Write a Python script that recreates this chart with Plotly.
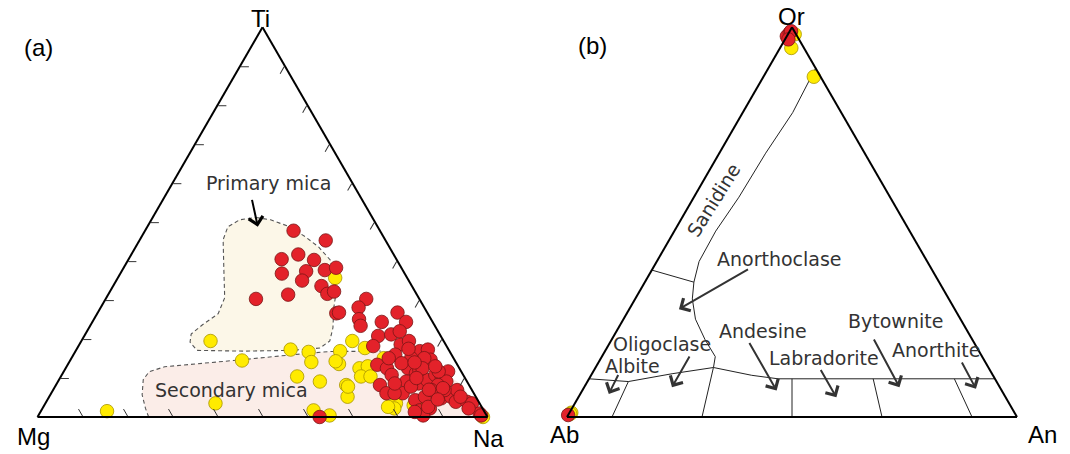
import numpy as np
import plotly.graph_objects as go

# ---------------- DATA: panel (a) Ti-Mg-Na (percent) ----------------
red_a_ti = [47.8, 45.3, 41.7, 40.5, 40.3, 36.8, 37.4, 35.0, 37.7, 38.3, 33.6, 31.6, 32.2, 30.3, 31.4, 26.6, 26.8,
            30.3, 28.1, 25.1, 23.4, 26.8, 24.4, 24.4, 20.8, 21.2, 18.2, 18.6, 16.0, 19.5, 16.9, 17.3, 14.7, 15.1,
            15.1, 13.4, 12.5, 12.5, 11.2, 10.8, 9.1, 8.6, 9.5, 10.8, 10.4, 11.7, 9.1, 8.2, 8.2, 6.1, 6.1, 4.3, 5.2,
            2.2, 4.8, 5.2, 6.9, 3.9, 3.9, 3.5, 0.9, 1.7, 6.1, 7.8, 6.9, 6.9, 0.4, 0.0, 8.6, 12.1, 11.7, 0.4, 2.6,
            7.4, 15.1, 13.8, 12.5, 13.0, 5.2, 2.2, 1.3, 22.0, 17.5, 14.0, 10.0, 7.0, 4.5]
red_a_mg = [19.2, 13.3, 21.2, 25.5, 18.4, 27.3, 21.6, 23.7, 17.3, 14.5, 20.1, 19.8, 18.0, 36.3, 28.6, 20.3, 19.6,
            11.8, 14.6, 16.0, 16.5, 6.6, 5.9, 11.3, 13.9, 10.8, 16.3, 10.0, 12.5, 7.7, 6.6, 4.6, 5.3, 6.5,
            9.4, 17.8, 16.1, 11.4, 10.3, 15.9, 13.5, 11.0, 8.7, 6.2, 5.0, 2.9, 4.6, 6.9, 19.8, 19.4, 15.8, 13.9, 11.3,
            11.7, 7.9, 5.5, 3.3, 5.1, 2.6, 1.7, 1.3, 14.2, 17.6, 13.1, 6.1, 9.0, 14.1, 37.3, 16.3, 9.1, 5.0, 1.2, 11.9,
            6.2, 14.4, 12.2, 8.2, 5.1, 3.4, 3.1, 15.5, 8.5, 8.8, 9.2, 10.8, 9.5, 8.8]
red_a_na = [33.0, 41.4, 37.1, 34.0, 41.3, 35.9, 41.0, 41.3, 45.0, 47.2, 46.3, 48.6, 49.8, 33.4, 40.0, 53.1, 53.6,
            57.9, 57.3, 58.9, 60.1, 66.6, 69.7, 64.3, 65.3, 68.0, 65.5, 71.4, 71.5, 72.8, 76.5, 78.1, 80.0, 78.4,
            75.5, 68.8, 71.4, 76.1, 78.5, 73.3, 77.4, 80.4, 81.8, 83.0, 84.6, 85.4, 86.3, 84.9, 72.0, 74.5, 78.1, 81.8, 83.5,
            86.1, 87.3, 89.3, 89.8, 91.0, 93.5, 94.8, 97.8, 84.1, 76.3, 79.1, 87.0, 84.1, 85.5, 62.7, 75.1, 78.8, 83.3, 98.4, 85.5,
            86.4, 70.5, 74.0, 79.3, 81.9, 91.4, 94.7, 83.2, 69.5, 73.7, 76.8, 79.2, 83.5, 86.7]

yel_a_ti = [19.5, 17.3, 16.7, 14.1, 14.5, 10.4, 9.1, 16.9, 13.6, 14.3, 19.5, 8.2, 5.2, 3.5, 1.5, 1.7, 0.4,
            17.7, 12.5, 13.0, 10.4, 10.4, 7.8, 3.5, 2.2, 15.1, 0.0, 2.2, 3.0, 35.7, 2.6]
yel_a_mg = [51.8, 35.1, 31.4, 32.1, 47.3, 37.1, 32.7, 24.3, 26.2, 26.6, 20.3, 27.3, 28.5, 58.7, 83.8, 37.8, 34.9,
            18.4, 22.2, 20.1, 22.9, 20.8, 27.1, 18.6, 19.6, 15.5, 1.0, 12.8, 14.9, 16.0, 20.8]
yel_a_na = [28.7, 47.6, 51.9, 53.8, 38.2, 52.5, 58.2, 58.8, 60.2, 59.1, 60.2, 64.5, 66.3, 37.8, 14.7, 60.5, 64.7,
            63.9, 65.3, 66.9, 66.7, 68.8, 65.1, 77.9, 78.2, 69.4, 99.0, 85.0, 82.1, 48.3, 76.6]

# field outlines (percent)
primary_ti = [51.2, 50.6, 48.9, 46.3, 43.6, 40.3, 35.9, 31.9, 28.1, 22.9, 19.5, 17.7, 17.1, 16.9, 17.1, 19.2,
              21.3, 23.6, 26.5, 30.6, 38.4, 45.5, 48.8, 50.6, 51.2]
primary_mg = [25.8, 22.9, 19.7, 17.4, 15.7, 14.8, 15.9, 17.7, 20.1, 22.9, 25.3, 28.4, 34.7, 45.8, 56.0, 56.5,
              55.2, 51.6, 46.6, 43.1, 39.4, 36.0, 33.3, 29.8, 25.8]
primary_na = [23.0, 26.5, 31.4, 36.3, 40.7, 44.9, 48.2, 50.4, 51.8, 54.2, 55.2, 53.9, 48.2, 37.3, 26.9, 24.3,
              23.5, 24.8, 26.9, 26.3, 22.2, 18.5, 17.9, 19.6, 23.0]

secondary_ti = [0.0, 2.2, 5.7, 9.6, 11.6, 12.9, 14.7, 16.0, 16.8, 16.9, 14.3, 8.3, 0.8, 0.0]
secondary_mg = [75.3, 74.9, 73.9, 71.7, 69.4, 65.3, 47.2, 35.1, 26.7, 15.3, 6.5, 1.5, 1.1, 1.1]
secondary_na = [24.7, 22.9, 20.4, 18.7, 19.0, 21.8, 38.1, 48.9, 56.5, 67.8, 79.2, 90.2, 98.1, 98.9]
secondary_dashed_n = 10  # first points carry the dashed border

tick_values = [10, 20, 30, 40, 50, 60, 70, 80, 90]

# ---------------- DATA: panel (b) Or-Ab-An (percent) ----------------
red_b_or = [97.7, 98.6, 99.0, 96.9, 0.5]
red_b_ab = [2.3, 1.2, 0.7, 2.35, 99.5]
red_b_an = [0.0, 0.2, 0.3, 0.75, 0.0]

yel_b_or = [94.7, 98.2, 87.3, 1.1, 0.8]
yel_b_ab = [2.8, 0.3, 1.5, 98.5, 98.9]
yel_b_an = [2.5, 1.5, 11.2, 0.4, 0.3]

# Sanidine / anorthoclase boundary
curveA_or = [89.5, 78.1, 67.7, 56.4, 47.7, 39.9, 34.6, 30.3, 25.1, 19.8, 15.5, 12.7]
curveA_ab = [0.0, 10.8, 22.0, 33.6, 43.1, 50.7, 54.5, 57.0, 58.9, 59.4, 59.3, 61.1]
curveA_an = [10.5, 11.1, 10.3, 10.0, 9.2, 9.4, 10.9, 12.7, 16.0, 20.8, 25.2, 26.2]
# plagioclase upper boundary (right part)
lineB_or = [12.7, 10.7, 9.8, 9.8]
lineB_ab = [61.1, 53.6, 48.2, 0.0]
lineB_an = [26.2, 35.7, 42.0, 90.2]
# plagioclase upper boundary (left part)
lineM_or = [9.8, 9.1, 11.1, 12.7]
lineM_ab = [90.2, 81.8, 71.1, 61.1]
lineM_an = [0.0, 9.1, 17.8, 26.2]
# short sanidine / anorthoclase tie line
lineS_or = [37.7, 34.6]
lineS_ab = [62.3, 54.5]
lineS_an = [0.0, 10.9]
# plagioclase dividers: An/(Ab+An) ratio and Or at upper end
divider_an_ratio = [10, 30, 50, 70, 90]
divider_top_or = [9.1, 12.7, 9.8, 9.8, 9.8]

# ---------------- geometry helpers ----------------
W, H = 1070, 454
SIDE = 450.0
TRI_H = SIDE * np.sqrt(3) / 2
BASE_Y = 417.0
CX = {'a': 262.5, 'b': 792.0}
REF = {'a': np.array([[253, 30], [30, 415], [495, 415]], float),
       'b': np.array([[790.5, 33], [559, 416], [1025, 416]], float)}


def my_corners(p):
    cx = CX[p]
    return np.array([[cx, BASE_Y - TRI_H], [cx - SIDE / 2, BASE_Y], [cx + SIDE / 2, BASE_Y]])


def map_px(p, x, y):
    A, B, C = REF[p]
    M = np.array([[A[0] - C[0], B[0] - C[0]], [A[1] - C[1], B[1] - C[1]]])
    l1, l2 = np.linalg.solve(M, [x - C[0], y - C[1]])
    l3 = 1 - l1 - l2
    P = my_corners(p)
    X = l1 * P[0] + l2 * P[1] + l3 * P[2]
    return X[0], X[1]


def paper(x, y):
    return x / W, 1 - y / H


def domain(p):
    cx = CX[p]
    yc = BASE_Y - TRI_H / 2
    ycp = 1 - yc / H
    half = (TRI_H / H) / 2 + 0.004
    return dict(x=[(cx - SIDE / 2) / W, (cx + SIDE / 2) / W], y=[ycp - half, ycp + half])


fig = go.Figure()

# ---------------- panel (a) ----------------
fig.add_trace(go.Scatterternary(a=secondary_ti, b=secondary_mg, c=secondary_na, mode='lines', fill='toself',
                                fillcolor='#FBEDE8', line=dict(width=0), subplot='ternary', hoverinfo='skip'))
fig.add_trace(go.Scatterternary(a=secondary_ti[:secondary_dashed_n], b=secondary_mg[:secondary_dashed_n],
                                c=secondary_na[:secondary_dashed_n], mode='lines',
                                line=dict(color='#555555', width=1.1, dash='4px,3px'), subplot='ternary',
                                hoverinfo='skip'))
fig.add_trace(go.Scatterternary(a=primary_ti, b=primary_mg, c=primary_na, mode='lines', fill='toself',
                                fillcolor='#FCF7E8', line=dict(color='#555555', width=1.1, dash='4px,3px'),
                                subplot='ternary', hoverinfo='skip'))
fig.add_trace(go.Scatterternary(a=yel_a_ti, b=yel_a_mg, c=yel_a_na, mode='markers', cliponaxis=False,
                                marker=dict(size=13.5, color='#FFEB00', line=dict(color='#A89400', width=0.8)),
                                subplot='ternary'))
fig.add_trace(go.Scatterternary(a=red_a_ti, b=red_a_mg, c=red_a_na, mode='markers', cliponaxis=False,
                                marker=dict(size=13.5, color='#E3222A', line=dict(color='#7A1515', width=0.8)),
                                subplot='ternary'))

# ---------------- panel (b) ----------------
line_style = dict(color='#222222', width=1)
for o, ab, an in [(curveA_or, curveA_ab, curveA_an), (lineB_or, lineB_ab, lineB_an),
                  (lineM_or, lineM_ab, lineM_an), (lineS_or, lineS_ab, lineS_an)]:
    fig.add_trace(go.Scatterternary(a=o, b=ab, c=an, mode='lines', line=line_style, subplot='ternary2',
                                    hoverinfo='skip'))
for k, top in zip(divider_an_ratio, divider_top_or):
    rest = 100 - top
    fig.add_trace(go.Scatterternary(a=[0, top], b=[100 - k, rest * (100 - k) / 100], c=[k, rest * k / 100],
                                    mode='lines', line=line_style, subplot='ternary2', hoverinfo='skip'))
fig.add_trace(go.Scatterternary(a=yel_b_or, b=yel_b_ab, c=yel_b_an, mode='markers', cliponaxis=False,
                                marker=dict(size=13.5, color='#FFEB00', line=dict(color='#A89400', width=0.8)),
                                subplot='ternary2'))
fig.add_trace(go.Scatterternary(a=red_b_or, b=red_b_ab, c=red_b_an, mode='markers', cliponaxis=False,
                                marker=dict(size=13.5, color='#E3222A', line=dict(color='#7A1515', width=0.8)),
                                subplot='ternary2'))


def axis(ticks):
    d = dict(showgrid=False, showline=True, linecolor='black', linewidth=2, showticklabels=False,
             title=dict(text=''))
    if ticks:
        d.update(ticks='inside', tickmode='array', tickvals=tick_values, ticklen=8, tickwidth=1.2,
                 tickcolor='#333333')
    else:
        d.update(ticks='')
    return d


layout_t = dict(sum=100, bgcolor='white')
fig.update_layout(
    width=W, height=H, margin=dict(l=0, r=0, t=0, b=0), paper_bgcolor='white', showlegend=False,
    ternary=dict(domain=domain('a'), aaxis=axis(True), baxis=axis(True), caxis=axis(True), **layout_t),
    ternary2=dict(domain=domain('b'), aaxis=axis(False), baxis=axis(False), caxis=axis(False), **layout_t),
)

annotations = []


def text_ann(p, x, y, txt, size, family, color, angle=0, mapped=True):
    if mapped:
        x, y = map_px(p, x, y)
    px, py = paper(x, y)
    annotations.append(dict(x=px, y=py, xref='paper', yref='paper', text=txt, showarrow=False,
                            xanchor='center', yanchor='middle', textangle=angle,
                            font=dict(size=size, family=family, color=color)))


def arrow_ann(p, tx, ty, hx, hy, color):
    tx, ty = map_px(p, tx, ty)
    hx, hy = map_px(p, hx, hy)
    px, py = paper(hx, hy)
    annotations.append(dict(x=px, y=py, xref='paper', yref='paper', text='', showarrow=True,
                            ax=tx - hx, ay=ty - hy, axref='pixel', ayref='pixel',
                            arrowhead=4, arrowsize=1.4, arrowwidth=2, arrowcolor=color, standoff=0))


ARIAL = 'Liberation Sans, Arial, sans-serif'
DEJ = 'DejaVu Sans, sans-serif'

# panel labels
text_ann('a', 38.7, 47.5, '(a)', 24, ARIAL, 'black', mapped=False)
text_ann('b', 592.7, 45.5, '(b)', 24, ARIAL, 'black', mapped=False)
# corner labels
text_ann('a', 251, 21, 'Ti', 24, ARIAL, 'black')
text_ann('a', 26.8, 434.3, 'Mg', 24, ARIAL, 'black')
text_ann('a', 497, 436.5, 'Na', 24, ARIAL, 'black')
text_ann('b', 789.7, 22, 'Or', 24, ARIAL, 'black')
text_ann('b', 556.8, 433.3, 'Ab', 24, ARIAL, 'black')
text_ann('b', 1051, 433.3, 'An', 24, ARIAL, 'black')

# panel (a) field labels
text_ann('a', 263.3, 184, 'Primary mica', 19, DEJ, '#333333')
arrow_ann('a', 246, 199, 253, 227, 'black')
text_ann('a', 229.6, 388, 'Secondary mica', 19, DEJ, '#333333')

# panel (b) field labels
text_ann('b', 709.6, 202.3, 'Sanidine', 19, DEJ, '#333333', angle=-58)
text_ann('b', 778.9, 260.7, 'Anorthoclase', 19, DEJ, '#333333')
arrow_ann('b', 747.4, 270, 674.5, 310, '#333333')
text_ann('b', 657, 344.5, 'Oligoclase', 19, DEJ, '#333333')
arrow_ann('b', 686.5, 355, 667.6, 386.7, '#333333')
text_ann('b', 626.5, 366, 'Albite', 19, DEJ, '#333333')
arrow_ann('b', 612.6, 373.3, 602.2, 393.3, '#333333')
text_ann('b', 761.2, 331.7, 'Andesine', 19, DEJ, '#333333')
arrow_ann('b', 746.7, 341.7, 776, 390, '#333333')
text_ann('b', 824.5, 358, 'Labradorite', 19, DEJ, '#333333')
arrow_ann('b', 820.7, 368.3, 837.9, 396.7, '#333333')
text_ann('b', 899, 322, 'Bytownite', 19, DEJ, '#333333')
arrow_ann('b', 875.7, 338.3, 903.2, 386.7, '#333333')
text_ann('b', 941, 350, 'Anorthite', 19, DEJ, '#333333')
arrow_ann('b', 966.9, 361, 982.4, 388.3, '#333333')

fig.update_layout(annotations=annotations)
fig.write_html('out.html')
